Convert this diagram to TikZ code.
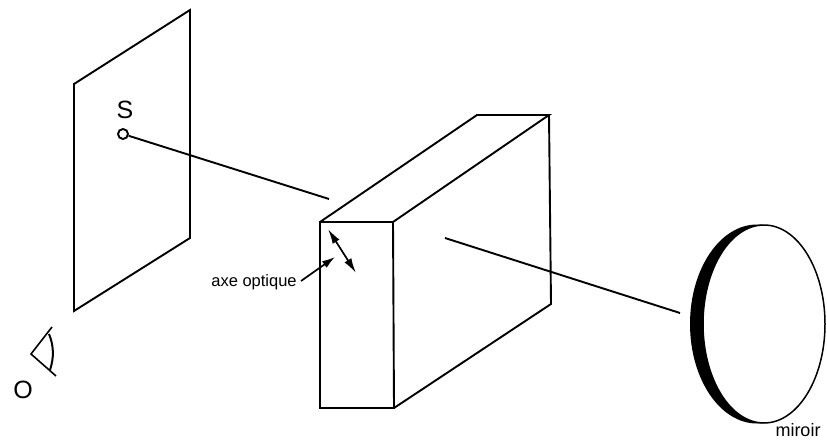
\documentclass[tikz,border=0pt]{standalone}
\usepackage{fontspec}
\setmainfont{Liberation Sans}
\usetikzlibrary{arrows.meta}
\tikzset{
  ln/.style={draw=black,line width=1.9pt,line join=miter},
  lbl/.style={inner sep=0pt,font=\fontsize{16.5}{18}\selectfont},
  lblm/.style={inner sep=0pt,anchor=base,font=\fontsize{18}{20}\selectfont},
  big/.style={inner sep=0pt,font=\fontsize{25}{28}\selectfont},
  tip/.style={-{Latex[length=13pt,width=8pt]},line width=1.7pt},
  dtip/.style={{Latex[length=15pt,width=8pt]}-{Latex[length=15pt,width=8pt]},line width=1.7pt}
}
\begin{document}
\begin{tikzpicture}[x=1pt,y=-1pt]
\useasboundingbox (0,0) rectangle (827,441);
% screen
\coordinate (p1) at (74,84); \coordinate (p2) at (190,10);
\coordinate (p3) at (190,238); \coordinate (p4) at (74,311);
\draw[ln] (p1) -- (p2) -- (p3) -- (p4) -- cycle;
% box
\coordinate (a) at (320,222); \coordinate (b) at (393,222);
\coordinate (c) at (394,408); \coordinate (d) at (320,408);
\coordinate (e) at (477,115); \coordinate (f) at (549,115);
\coordinate (g) at (551,304);
\draw[ln] (a) -- (b) -- (c) -- (d) -- cycle;
\draw[ln] (a) -- (e) -- (f) -- (b);
\draw[ln] (f) -- (g) -- (c);
% source and beam
\node[draw=black,line width=1.9pt,circle,minimum size=10pt,inner sep=0pt] (src) at (123,134) {};
\node[big] (S) at (125,110) {S};
\coordinate (b1) at (329,199);
\draw[ln] (src) -- (b1);
\coordinate (b2) at (445,238);
\coordinate (b4) at (680,313);
\draw[ln] (b2) -- (b4);
% mirror
\fill[black] (757,324) ellipse [x radius=67, y radius=99.5];
\draw[fill=white,line width=1.5pt] (764,324) ellipse [x radius=61, y radius=99];
\node[lblm] (mir) at (798,436.5) {miroir};
% optic axis
\node[lbl] (axe) at (254,282) {axe optique};
\coordinate (t0) at (301,281); \coordinate (t1) at (335,257);
\draw[tip] (t0) -- (t1);
\coordinate (d0) at (328,229); \coordinate (d1) at (356,273);
\draw[dtip] (d0) -- (d1);
% eye
\coordinate (e0) at (31,354); \coordinate (e1) at (52,327); \coordinate (e2) at (56,376);
\draw[ln,line width=1.6pt] (e1) -- (e0) -- (e2);
\draw[line width=2pt] (49,334) .. controls (54,346) and (54,358) .. (50,370);
\node[big] (O) at (23,389.5) {O};
\end{tikzpicture}
\end{document}
